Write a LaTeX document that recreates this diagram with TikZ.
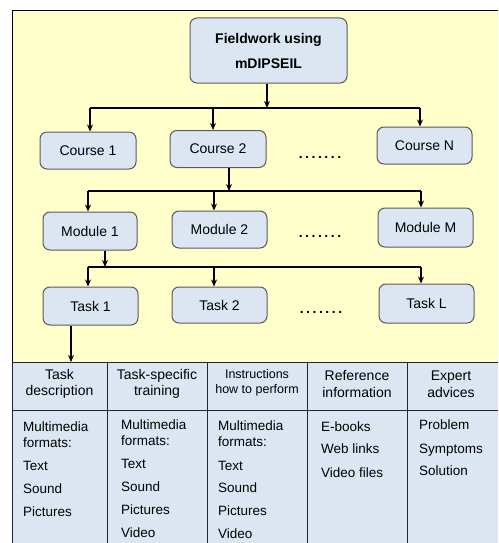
\documentclass[tikz,border=0pt]{standalone}
\usepackage{fontspec}
\setmainfont{Liberation Sans}
\usetikzlibrary{arrows.meta}
\definecolor{bgyellow}{HTML}{FFFFCC}
\definecolor{boxblue}{HTML}{DCE6F2}
\definecolor{boxline}{HTML}{5A5A5A}
\tikzset{
  box/.style={draw=boxline, fill=boxblue, rounded corners=7pt, line width=1pt,
    minimum width=95pt, minimum height=37pt, inner sep=0pt,
    font=\fontsize{14}{16}\selectfont},
  arr/.style={line width=1.6pt, -{Stealth[length=7pt,width=6pt]}},
  bus/.style={line width=1.6pt},
  dots/.style={font=\fontsize{14}{16}\selectfont\bfseries\addfontfeature{LetterSpace=18}},
  hdr/.style={align=center, font=\fontsize{14}{16.5}\selectfont},
  cell/.style={anchor=base west, inner sep=0pt, font=\fontsize{13.5}{15}\selectfont},
  grid/.style={draw=black!85, line width=0.8pt}
}
\begin{document}
\begin{tikzpicture}[x=1pt,y=-1pt]
\useasboundingbox (0,0) rectangle (498,543);
% backgrounds
\fill[bgyellow] (12,10) rectangle (498,362);
\draw[black, line width=0.9pt] (12,362) -- (12,10) -- (498,10);
\fill[boxblue] (12,362) rectangle (498,543);
% hierarchy nodes
\node[box, minimum width=157pt, minimum height=65pt, align=center,
  font=\fontsize{14}{25}\selectfont\bfseries] (top) at (268.5,50.5) {Fieldwork using\\mDIPSEIL};
\node[box, minimum width=96pt] (c1) at (88,150.5) {Course 1};
\node[box, minimum width=96pt] (c2) at (218,149) {Course 2};
\node[box] (cN) at (424.5,145.5) {Course N};
\node[box, minimum width=94pt, minimum height=38pt] (m1) at (90,231) {Module 1};
\node[box, minimum height=37pt] (m2) at (219.5,229.5) {Module 2};
\node[box, minimum height=39pt] (mM) at (425.5,227.5) {Module M};
\node[box, minimum height=38pt] (t1) at (90.5,306) {Task 1};
\node[box, minimum height=36pt] (t2) at (219.5,305) {Task 2};
\node[box, minimum height=39pt] (tL) at (426.5,303.5) {Task L};
\node[dots] (d1) at (320,157) {.......};
\node[dots] (d2) at (320,236) {.......};
\node[dots] (d3) at (321,312) {.......};
% bus coordinates
\coordinate (b1a) at (90,108);
\coordinate (b1b) at (213,108);
\coordinate (b1c) at (420,108);
\coordinate (b2a) at (88,191);
\coordinate (b2b) at (214,191);
\coordinate (b2c) at (421,191);
\coordinate (b3a) at (88,267);
\coordinate (b3b) at (214,267);
\coordinate (b3c) at (421,267);
% connectors level 1
\draw[arr] (top.south -| 267,0) -- (267,108);
\draw[bus] (b1a) -- (b1c);
\draw[arr] (b1a) -- (b1a |- c1.north);
\draw[arr] (b1b) -- (b1b |- c2.north);
\draw[arr] (b1c) -- (b1c |- cN.north);
% level 2
\draw[arr] (c2.south -| 229,0) -- (229,191);
\draw[bus] (b2a) -- (b2c);
\draw[arr] (b2a) -- (b2a |- m1.north);
\draw[arr] (b2b) -- (b2b |- m2.north);
\draw[arr] (b2c) -- (b2c |- mM.north);
% level 3
\draw[arr] (m1.south -| 105,0) -- (105,267);
\draw[bus] (b3a) -- (b3c);
\draw[arr] (b3a) -- (b3a |- t1.north);
\draw[arr] (b3b) -- (b3b |- t2.north);
\draw[arr] (b3c) -- (b3c |- tL.north);
% table
\coordinate (tabtop) at (71,362);
\draw[arr] (t1.south -| 71,0) -- (tabtop);
\draw[grid] (12,362) -- (498,362);
\draw[grid] (12,410) -- (498,410);
\foreach \x in {12,107,207,307,407} \draw[grid] (\x,362) -- (\x,543);
% headers
\node[hdr] (h1) at (59.5,384) {Task\\description};
\node[hdr] (h2) at (157,384) {Task-specific\\training};
\node[hdr, font=\fontsize{12.5}{15}\selectfont] (h3) at (257,383) {Instructions\\how to perform};
\node[hdr] (h4) at (357,384) {Reference\\information};
\node[hdr] (h5) at (451,384) {Expert\\advices};
% column 1
\node[cell] (a1) at (23,431) {Multimedia};
\node[cell] (a2) at (23,447) {formats:};
\node[cell] (a3) at (23,470) {Text};
\node[cell] (a4) at (23,493) {Sound};
\node[cell] (a5) at (23,516) {Pictures};
% column 2
\node[cell] (b1) at (121,429) {Multimedia};
\node[cell] (b2) at (121,445) {formats:};
\node[cell] (b3) at (121,468) {Text};
\node[cell] (b4) at (121,491) {Sound};
\node[cell] (b5) at (121,514) {Pictures};
\node[cell] (b6) at (121,537) {Video};
% column 3
\node[cell] (e1) at (218,430) {Multimedia};
\node[cell] (e2) at (218,446) {formats:};
\node[cell] (e3) at (218,470) {Text};
\node[cell] (e4) at (218,492) {Sound};
\node[cell] (e5) at (218,515) {Pictures};
\node[cell] (e6) at (218,538) {Video};
% column 4
\node[cell] (f1) at (321,431) {E-books};
\node[cell] (f2) at (321,453) {Web links};
\node[cell] (f3) at (321,477) {Video files};
% column 5
\node[cell] (g1) at (419,429) {Problem};
\node[cell] (g2) at (419,453) {Symptoms};
\node[cell] (g3) at (419,475) {Solution};
\end{tikzpicture}
\end{document}
